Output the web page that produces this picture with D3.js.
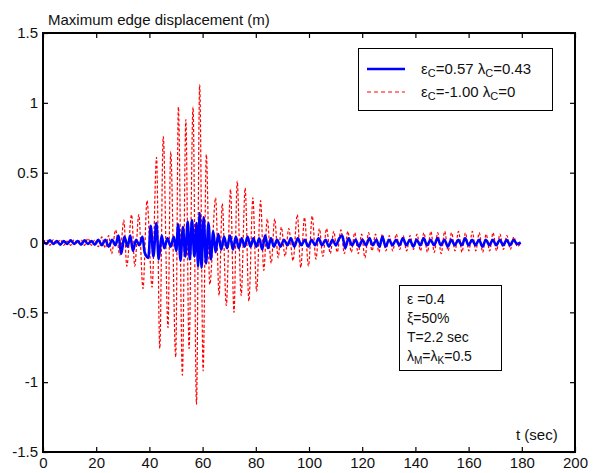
<!DOCTYPE html>
<html>
<head>
<meta charset="utf-8">
<script src="https://cdn.jsdelivr.net/npm/d3@7"></script>
<style>
  body { margin: 0; background: #fff; }
  text { font-family: "Liberation Sans", Arial, sans-serif; fill: #111; }
</style>
</head>
<body>
<div id="plot"></div>
<script>
const FRAME_WIDTH = 594;
const FRAME_HEIGHT = 473;
const MARGIN = {left: 43, right: 19, top: 33, bottom: 21};

// tick values
const X_TICKS = [0, 20, 40, 60, 80, 100, 120, 140, 160, 180, 200];
const Y_TICKS = [-1.5, -1, -0.5, 0, 0.5, 1, 1.5];

// red dashed series (eps_c=-1.00, lambda_c=0), extrema
const redT = [0, 1.3, 2.6, 3.9, 5.2, 6.5, 7.8, 9.1, 10.4, 11.7, 13, 14.3, 15.6, 16.9, 18.2, 19.5, 20.8, 22.1, 23.4, 24.7,
  25.8, 27.3, 28.9, 30.4, 31.5, 33.3, 34.5, 36, 37.6, 39.1, 41, 42.7, 43.9, 45.2, 47, 48, 49.9, 50.9, 52.4, 53.7,
  54.9, 56.4, 57.7, 58.9, 60.2, 61.4, 62.7, 64.9, 66.2, 67.4, 68.9, 70.5, 71.8, 73, 74.5, 76, 77.4, 78.9, 80.3, 81.8,
  83, 84.3, 85.8, 87.1, 88.4, 89.6, 91, 92.4, 94, 95.6, 96.9, 98.3, 99.8, 101.2, 102.6, 103.9, 105.2, 106.6, 108, 109.3,
  110.6, 112, 113.3, 114.6, 115.9, 117.2, 118.5, 119.8, 121, 122.4, 123.7, 125, 126.3, 127.6, 128.9, 130.2, 131.5, 132.8, 134.1, 135.4,
  136.7, 138, 139.3, 140.6, 141.9, 143.2, 144.5, 145.8, 147.1, 148.4, 149.7, 151, 152.3, 153.6, 154.9, 156.2, 157.5, 158.8, 160.1, 161.4,
  162.7, 164, 165.3, 166.6, 167.9, 169.2, 170.5, 171.8, 173.1, 174.4, 175.7, 177, 178.3, 179.6];
const redV = [0, 0.02, -0.02, 0.02, -0.01, 0.02, -0.02, 0.01, -0.02, 0.02, -0.01, 0.02, -0.02, 0.03, -0.02, 0.02, -0.03, 0.04, -0.04, 0.05,
  -0.08, 0.09, -0.09, 0.16, -0.17, 0.2, -0.17, 0.2, -0.33, 0.3, -0.32, 0.61, -0.76, 0.76, -0.61, 0.65, -0.82, 0.97, -0.95, 0.88,
  -0.76, 0.97, -1.16, 1.13, -0.92, 0.63, -0.3, 0.32, -0.38, 0.28, -0.45, 0.38, -0.5, 0.44, -0.38, 0.39, -0.42, 0.32, -0.35, 0.3,
  -0.2, 0.17, -0.15, 0.17, -0.11, 0.11, -0.1, 0.1, -0.13, 0.2, -0.18, 0.18, -0.17, 0.19, -0.12, 0.1, -0.1, 0.1, -0.08, 0.08,
  -0.07, 0.09, -0.08, 0.08, -0.07, 0.07, -0.08, 0.06, -0.11, 0.07, -0.06, 0.06, -0.07, 0.06, -0.06, 0.05, -0.06, 0.06, -0.05, 0.05,
  -0.06, 0.05, -0.05, 0.06, -0.06, 0.07, -0.07, 0.08, -0.07, 0.07, -0.08, 0.08, -0.06, 0.07, -0.06, 0.08, -0.07, 0.07, -0.06, 0.08,
  -0.06, 0.07, -0.07, 0.06, -0.06, 0.07, -0.06, 0.06, -0.05, 0.05, -0.05, 0.04, -0.03, 0];

// blue solid series (eps_c=0.57, lambda_c=0.43)
const blueT = [0, 1.3, 2.6, 3.9, 5.2, 6.5, 7.8, 9.1, 10.4, 11.7, 13, 14.3, 15.6, 16.9, 18.2, 19.5, 20.8, 22.1, 23.4, 24.7,
  26, 27.2, 28.4, 29.4, 30.6, 31.8, 32.8, 33.8, 35, 36.2, 37.4, 38.2, 39.6, 40.5, 41.5, 42.6, 43.5, 44.6, 45.6, 46.8,
  48, 49.2, 50.1, 50.8, 51.7, 52.6, 53.5, 54.4, 55.2, 56, 56.9, 57.7, 58.3, 58.9, 59.6, 60.4, 61.3, 62.2, 63.1, 64,
  64.9, 65.9, 67, 68.1, 69.2, 70.3, 71.4, 72.5, 73.6, 74.7, 75.8, 76.9, 78, 79.1, 80.2, 81.3, 82.4, 83.5, 84.6, 85.7,
  86.8, 88, 89.3, 90.6, 91.9, 93.2, 94.5, 95.8, 97.1, 98.4, 99.7, 101, 102.3, 103.6, 104.9, 106.2, 107.5, 108.8, 110.1, 111.4,
  112.5, 113.6, 114.9, 116.2, 117.5, 118.8, 120.1, 121.4, 122.7, 124, 125.3, 126.5, 127.6, 128.8, 130.1, 131.4, 132.7, 134, 135.3, 136.6,
  137.9, 139.2, 140.5, 141.8, 143.1, 144.4, 145.7, 147, 148.3, 149.6, 150.9, 152.2, 153.5, 154.8, 156.1, 157.4, 158.7, 160, 161.3, 162.6,
  163.9, 165.2, 166.5, 167.8, 169.1, 170.4, 171.7, 173, 174.3, 175.6, 176.9, 178.2, 179.6];
const blueV = [0.01, -0.01, 0.015, -0.01, 0.01, -0.015, 0.01, -0.01, 0.015, -0.01, 0.01, -0.015, 0.015, -0.01, 0.01, -0.015, 0.02, -0.02, 0.02, -0.03,
  0.02, -0.02, 0.05, -0.08, 0.04, -0.03, 0.05, -0.06, 0.02, -0.02, 0.04, -0.07, -0.11, 0.12, -0.1, 0.14, -0.12, 0.05, -0.04, 0.03,
  -0.03, 0.04, -0.06, 0.13, -0.13, 0.11, -0.1, 0.15, -0.12, 0.16, -0.1, 0.14, -0.17, 0.21, -0.18, 0.18, -0.15, 0.14, -0.12, 0.08,
  -0.07, 0.06, -0.05, 0.04, -0.04, 0.05, -0.05, 0.04, -0.04, 0.03, -0.03, 0.04, -0.03, 0.03, -0.03, 0.03, -0.05, 0.05, -0.04, 0.03,
  -0.03, 0.02, -0.03, 0.02, -0.02, 0.03, -0.03, 0.03, -0.02, 0.02, -0.03, 0.02, -0.02, 0.03, -0.02, 0.02, -0.03, 0.02, -0.02, 0.03,
  0.05, -0.04, 0.03, -0.02, 0.02, -0.03, 0.02, -0.02, 0.03, -0.02, 0.02, -0.03, 0.04, -0.03, 0.02, -0.02, 0.02, -0.02, 0.03, -0.02,
  0.02, -0.03, 0.02, -0.02, 0.03, -0.02, 0.02, -0.02, 0.03, -0.02, 0.02, -0.03, 0.02, -0.02, 0.02, -0.02, 0.03, -0.02, 0.02, -0.02,
  0.02, -0.03, 0.02, -0.02, 0.02, -0.02, 0.02, -0.02, 0.02, -0.02, 0.02, -0.01, 0];

const VIS_WIDTH = FRAME_WIDTH - MARGIN.left - MARGIN.right;
const VIS_HEIGHT = FRAME_HEIGHT - MARGIN.top - MARGIN.bottom;

const FRAME = d3.select("#plot")
  .append("svg")
    .attr("width", FRAME_WIDTH)
    .attr("height", FRAME_HEIGHT);

const X_SCALE = d3.scaleLinear().domain([0, 200]).range([0, VIS_WIDTH]);
const Y_SCALE = d3.scaleLinear().domain([-1.5, 1.5]).range([VIS_HEIGHT, 0]);

const G = FRAME.append("g")
  .attr("transform", "translate(" + MARGIN.left + "," + MARGIN.top + ")");

// lines
const line = d3.line()
  .x(d => X_SCALE(d[0]))
  .y(d => Y_SCALE(d[1]))
  .curve(d3.curveMonotoneX);

G.append("path")
  .datum(redT.map((t, i) => [t, redV[i]]))
  .attr("d", line)
  .attr("fill", "none")
  .attr("stroke", "#ff0000")
  .attr("stroke-width", 1.2)
  .attr("stroke-dasharray", "3,2");

G.append("path")
  .datum(blueT.map((t, i) => [t, blueV[i]]))
  .attr("d", line)
  .attr("fill", "none")
  .attr("stroke", "#0000ff")
  .attr("stroke-width", 2.6)
  .attr("stroke-linejoin", "round");

// axes, ticks pointing inside
function styleAxis(g) {
  g.select(".domain").remove();
  g.selectAll(".tick line").attr("stroke", "#000").attr("stroke-width", 1.2);
  g.selectAll("text").attr("font-size", "15px").attr("fill", "#111")
    .attr("font-family", '"Liberation Sans", Arial, sans-serif');
}

G.append("g")
  .attr("transform", "translate(0," + VIS_HEIGHT + ")")
  .call(d3.axisBottom(X_SCALE).tickValues(X_TICKS).tickSize(-5).tickPadding(5))
  .call(styleAxis);

G.append("g")
  .call(d3.axisTop(X_SCALE).tickValues(X_TICKS).tickSize(-5).tickFormat(""))
  .call(styleAxis);

G.append("g")
  .call(d3.axisLeft(Y_SCALE).tickValues(Y_TICKS).tickSize(-5).tickPadding(5)
    .tickFormat(d => String(d)))
  .call(styleAxis);

G.append("g")
  .attr("transform", "translate(" + VIS_WIDTH + ",0)")
  .call(d3.axisRight(Y_SCALE).tickValues(Y_TICKS).tickSize(-5).tickFormat(""))
  .call(styleAxis);

G.append("rect")
  .attr("width", VIS_WIDTH)
  .attr("height", VIS_HEIGHT)
  .attr("fill", "none")
  .attr("stroke", "#000")
  .attr("stroke-width", 2);

// titles
FRAME.append("text")
  .attr("x", 48).attr("y", 25)
  .attr("font-size", "15px")
  .text("Maximum edge displacement (m)");

FRAME.append("text")
  .attr("x", 516).attr("y", 440)
  .attr("font-size", "15px")
  .text("t (sec)");

// helper for text with subscripts: parts = [[text, isSub], ...]
function richText(sel, x, y, parts, size) {
  const t = sel.append("text").attr("x", x).attr("y", y).attr("font-size", size + "px");
  let sub = false;
  parts.forEach(p => {
    const dy = p[1] && !sub ? 3 : (!p[1] && sub ? -3 : 0);
    t.append("tspan")
      .attr("dy", dy)
      .attr("font-size", p[1] ? (size - 4) + "px" : size + "px")
      .text(p[0]);
    sub = p[1];
  });
  return t;
}

// legend
const LEG = FRAME.append("g");
LEG.append("rect")
  .attr("x", 358.5).attr("y", 48.5).attr("width", 194).attr("height", 62)
  .attr("fill", "#fff").attr("stroke", "#000").attr("stroke-width", 1);
LEG.append("line")
  .attr("x1", 367).attr("x2", 405).attr("y1", 69).attr("y2", 69)
  .attr("stroke", "#0000ff").attr("stroke-width", 2.6);
LEG.append("line")
  .attr("x1", 367).attr("x2", 405).attr("y1", 92).attr("y2", 92)
  .attr("stroke", "#ff0000").attr("stroke-width", 1).attr("stroke-dasharray", "4,3");
richText(LEG, 421, 74, [["ε", false], ["C", true], ["=0.57 λ", false], ["C", true], ["=0.43", false]], 15);
richText(LEG, 421, 97, [["ε", false], ["C", true], ["=-1.00 λ", false], ["C", true], ["=0", false]], 15);

// parameter box
const ANN = FRAME.append("g");
ANN.append("rect")
  .attr("x", 399.5).attr("y", 285.5).attr("width", 102).attr("height", 85)
  .attr("fill", "#fff").attr("stroke", "#000").attr("stroke-width", 1);
richText(ANN, 407, 304, [["ε =0.4", false]], 14);
richText(ANN, 407, 323, [["ξ=50%", false]], 14);
richText(ANN, 407, 342, [["T=2.2 sec", false]], 14);
richText(ANN, 407, 361, [["λ", false], ["M", true], ["=λ", false], ["K", true], ["=0.5", false]], 14);
</script>
</body>
</html>
